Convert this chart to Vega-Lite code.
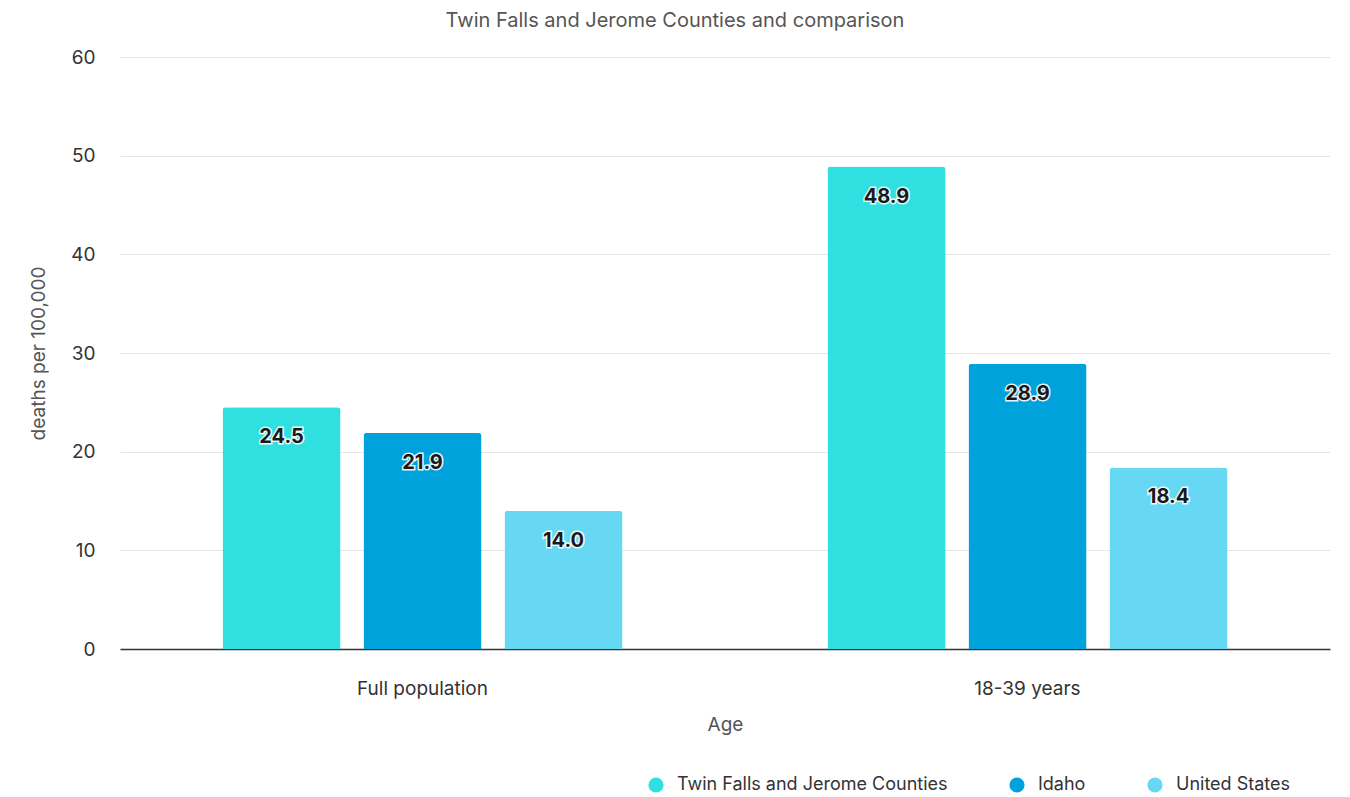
{
  "$schema": "https://vega.github.io/schema/vega-lite/v6.json",
  "width": 1210,
  "height": 592,
  "autosize": {"type": "none"},
  "padding": {"left": 120, "top": 57, "right": 20, "bottom": 148},
  "background": "white",
  "title": {"text": "Twin Falls and Jerome Counties and comparison", "anchor": "middle", "dx": -50, "offset": 17, "fontSize": 20, "font": "Inter", "fontWeight": "normal", "color": "#555555"},
  "config": {
    "font": "Inter",
    "view": {"stroke": null},
    "axis": {"labelFont": "Inter", "titleFont": "Inter"}
  },
  "data": {"values": [
    {"age": "Full population", "region": "Twin Falls and Jerome Counties", "value": 24.5},
    {"age": "Full population", "region": "Idaho", "value": 21.9},
    {"age": "Full population", "region": "United States", "value": 14.0},
    {"age": "18-39 years", "region": "Twin Falls and Jerome Counties", "value": 48.9},
    {"age": "18-39 years", "region": "Idaho", "value": 28.9},
    {"age": "18-39 years", "region": "United States", "value": 18.4}
  ]},
  "encoding": {
    "x": {"field": "age", "type": "nominal", "sort": ["Full population", "18-39 years"],
      "scale": {"paddingInner": 0, "paddingOuter": 0},
      "axis": {"title": "Age", "labelAngle": 0, "labelFontSize": 19, "labelColor": "#333333", "labelPadding": 30, "titleFontSize": 19, "titleFontWeight": "normal", "titleColor": "#555555", "titlePadding": 17, "ticks": false, "domainColor": "#333333", "domainWidth": 1.5}},
    "xOffset": {"field": "region", "type": "nominal", "sort": ["Twin Falls and Jerome Counties", "Idaho", "United States"],
      "scale": {"paddingInner": 0.163, "paddingOuter": 0.727}},
    "y": {"field": "value", "type": "quantitative",
      "scale": {"domain": [0, 60], "nice": false},
      "axis": {"title": "deaths per 100,000", "values": [0, 10, 20, 30, 40, 50, 60], "labelOverlap": false, "labelFontSize": 19, "labelColor": "#333333", "labelPadding": 25, "domain": false, "ticks": false, "gridColor": "#e6e6e6", "titleFontSize": 19, "titleFontWeight": "normal", "titleColor": "#555555", "titlePadding": 22}}
  },
  "layer": [
    {
      "mark": {"type": "bar", "cornerRadiusTopLeft": 3, "cornerRadiusTopRight": 3},
      "encoding": {
        "color": {"field": "region", "type": "nominal", "sort": ["Twin Falls and Jerome Counties", "Idaho", "United States"],
          "scale": {"domain": ["Twin Falls and Jerome Counties", "Idaho", "United States"], "range": ["#30DFE0", "#00A2DC", "#66D8F4"]},
          "legend": {"title": null, "orient": "none", "direction": "horizontal", "legendX": 527, "legendY": 719, "symbolType": "circle", "symbolSize": 230, "symbolStrokeWidth": 0, "labelFontSize": 18, "labelColor": "#333333", "labelLimit": 0, "columnPadding": 60, "labelOffset": 12}}
      }
    },
    {
      "mark": {"type": "text", "fontSize": 20, "fontWeight": "bold", "dy": 30, "stroke": "white", "strokeWidth": 3, "strokeOpacity": 0.9, "color": "white"},
      "encoding": {"text": {"field": "value", "type": "quantitative", "format": ".1f"}}
    },
    {
      "mark": {"type": "text", "fontSize": 20, "fontWeight": "bold", "dy": 30, "color": "#1a1a1a"},
      "encoding": {"text": {"field": "value", "type": "quantitative", "format": ".1f"}}
    }
  ]
}
